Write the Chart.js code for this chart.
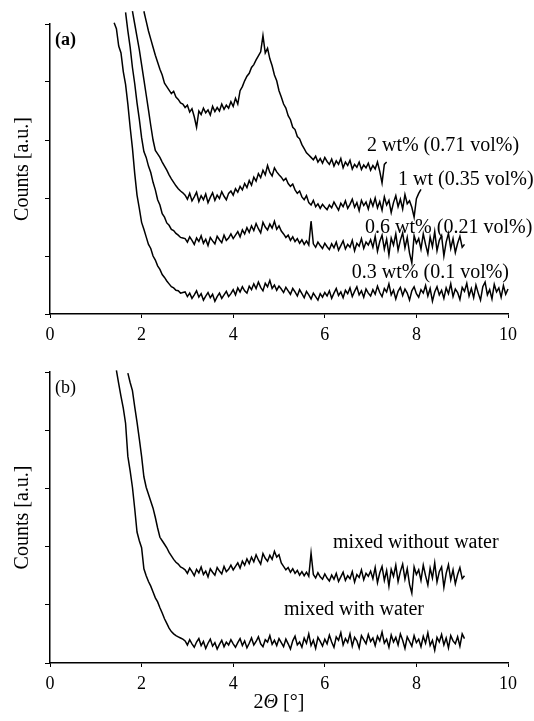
<!DOCTYPE html>
<html><head><meta charset="utf-8">
<script src="https://cdn.jsdelivr.net/npm/chart.js@4/dist/chart.umd.min.js"></script>
<style>
html,body{margin:0;padding:0;background:#fff;}
#wrap{width:534px;height:721px;position:relative;background:#fff;}
canvas{display:block;}
</style></head><body>
<div id="wrap">
<div style="position:absolute;left:0;top:0;width:534px;height:350px"><canvas id="ca" width="534" height="350"></canvas></div>
<div style="position:absolute;left:0;top:350px;width:534px;height:371px"><canvas id="cb" width="534" height="371"></canvas></div>
</div>
<script>
// ---- data (2Θ step 0.05°, each series starts at its own first angle) ----
const angleStep = 0.05;
const xTicks = [0, 2, 4, 6, 8, 10];

// panel (a)
const start03 = 1.40;
const counts03 = [5.02,4.92,4.62,4.50,4.18,3.96,3.62,3.22,2.86,2.42,2.05,1.82,1.58,1.46,1.33,1.20,1.13,1.00,0.93,0.83,0.77,0.68,0.63,0.57,0.52,0.47,0.45,0.41,0.40,0.36,0.37,
0.38,0.30,0.36,0.27,0.33,0.40,0.29,0.35,0.24,0.31,0.37,0.28,0.34,0.22,0.30,0.36,0.27,0.33,0.39,0.30,
0.35,0.42,0.33,0.45,0.38,0.47,0.40,0.36,0.48,0.42,0.52,0.44,0.55,0.46,0.40,0.53,0.47,0.58,0.44,0.50,0.41,0.48,
0.43,0.37,0.46,0.40,0.34,0.44,0.38,0.31,0.42,0.35,0.28,0.39,0.33,0.26,0.36,0.30,0.24,0.35,0.29,0.37,
0.31,0.40,0.27,0.36,0.44,0.32,0.38,0.28,0.41,0.35,0.45,0.30,0.39,0.47,0.33,0.40,0.29,0.43,0.36,0.31,
0.42,0.34,0.48,0.37,0.30,0.44,0.38,0.52,0.33,0.41,0.26,0.39,0.46,0.32,0.43,0.36,0.24,0.40,0.47,0.35,
0.29,0.42,0.36,0.49,0.31,0.44,0.22,0.38,0.47,0.33,0.41,0.27,0.45,0.35,0.52,0.30,0.43,0.37,0.25,0.46,
0.39,0.53,0.31,0.44,0.28,0.50,0.36,0.24,0.47,0.55,0.33,0.42,0.26,0.51,0.38,0.45,0.29,0.49,0.34,0.43,0.37,0.41];

const start06 = 1.65;
const counts06 = [5.20,4.88,4.60,4.25,3.97,3.64,3.36,3.04,2.80,2.70,2.55,2.44,2.27,2.14,1.97,1.88,1.73,1.67,1.57,1.53,1.46,1.44,1.39,1.36,1.32,1.31,
1.30,1.24,1.33,1.27,1.20,1.31,1.25,1.35,1.22,1.29,1.18,1.32,1.26,1.21,1.34,1.28,1.23,1.36,1.27,1.31,1.38,1.30,
1.36,1.42,1.33,1.45,1.38,1.49,1.41,1.52,1.44,1.56,1.47,1.40,1.58,1.50,1.45,1.55,1.48,1.60,1.46,1.52,
1.43,1.38,1.32,1.36,1.27,1.33,1.25,1.30,1.22,1.28,1.20,1.26,1.19,1.60,1.21,1.15,1.24,1.18,1.13,1.22,
1.16,1.11,1.21,1.14,1.24,1.10,1.18,1.26,1.12,1.20,1.15,1.27,1.09,1.22,1.17,1.30,1.13,1.24,1.19,1.28,
1.15,1.34,1.08,1.25,1.36,1.12,1.29,1.02,1.31,1.19,1.38,1.10,1.27,1.40,1.14,1.32,1.05,0.88,1.35,1.22,
1.30,1.12,1.38,1.20,1.04,1.33,1.16,1.42,1.09,1.27,1.35,1.00,1.24,1.39,1.13,1.30,1.06,1.22,1.34,1.15,1.20];

const start1 = 1.80;
const counts1 = [5.22,5.00,4.78,4.56,4.30,4.04,3.78,3.52,3.25,3.00,2.82,2.76,2.70,2.62,2.55,2.48,2.40,2.33,2.27,2.21,2.16,2.12,2.09,
2.05,1.98,2.08,1.95,2.02,2.10,1.94,2.04,1.97,2.07,1.92,2.01,2.09,1.96,2.05,1.99,2.11,2.03,1.97,2.08,
2.12,2.05,2.16,2.10,2.20,2.14,2.25,2.18,2.30,2.22,2.36,2.29,2.42,2.35,2.48,2.40,2.56,2.44,2.38,2.52,2.45,2.40,
2.36,2.30,2.34,2.25,2.20,2.24,2.14,2.08,2.12,2.02,1.97,2.04,1.92,1.88,1.96,1.85,1.90,1.82,1.89,1.84,
1.80,1.88,1.83,1.93,1.86,1.79,1.91,1.85,1.95,1.82,1.89,1.98,1.84,1.92,1.78,1.96,1.87,1.93,1.81,1.97,
1.86,2.00,1.83,1.94,1.79,2.02,1.88,1.96,1.75,1.92,2.04,1.85,1.98,1.81,2.06,1.90,1.95,1.84,1.67,1.99,2.08,2.15];

const start2 = 2.05;
const counts2 = [5.22,5.05,4.88,4.74,4.60,4.46,4.34,4.22,4.12,3.98,3.92,3.86,3.80,3.84,3.74,3.70,3.64,3.62,3.56,3.60,
3.48,3.54,3.40,3.22,3.50,3.44,3.55,3.47,3.52,3.43,3.58,3.49,3.56,3.50,3.62,3.53,3.60,3.55,3.66,3.58,
3.72,3.62,3.85,3.92,4.02,4.10,4.15,4.25,4.30,4.38,4.45,4.52,4.80,4.50,4.58,4.40,4.28,4.12,4.02,3.85,
3.74,3.62,3.55,3.42,3.35,3.22,3.18,3.06,3.02,2.92,2.85,2.78,2.74,2.70,2.66,2.72,2.62,2.68,2.60,2.70,
2.63,2.58,2.67,2.55,2.64,2.58,2.68,2.52,2.62,2.56,2.65,2.50,2.58,2.53,2.62,2.49,2.57,2.52,2.60,2.48,
2.56,2.50,2.62,2.46,2.26,2.58,2.62];

// panel (b)
const startWith = 1.45;
const countsWith = [5.03,4.80,4.58,4.38,4.12,3.55,3.30,3.02,2.65,2.25,2.10,1.98,1.62,1.50,1.40,1.32,1.22,1.12,1.05,0.95,0.86,0.76,0.68,0.60,0.54,0.50,0.47,0.45,0.43,0.41,
0.38,0.31,0.40,0.33,0.27,0.36,0.42,0.30,0.37,0.25,0.34,0.41,0.29,0.35,0.24,0.32,0.39,0.28,0.36,0.31,0.40,0.33,
0.27,0.35,0.42,0.30,0.38,0.26,0.34,0.43,0.31,0.37,0.45,0.33,0.28,0.40,0.36,0.47,0.32,0.39,0.30,0.42,
0.35,0.28,0.41,0.33,0.24,0.38,0.46,0.31,0.36,0.27,0.43,0.34,0.50,0.30,0.39,0.25,0.44,0.37,0.29,0.41,
0.33,0.48,0.36,0.27,0.45,0.39,0.52,0.31,0.42,0.35,0.50,0.29,0.44,0.38,0.26,0.47,0.40,0.33,0.49,0.37,
0.43,0.30,0.46,0.38,0.53,0.34,0.41,0.27,0.48,0.36,0.44,0.31,0.50,0.39,0.25,0.45,0.37,0.29,0.47,0.35,
0.41,0.28,0.46,0.34,0.52,0.30,0.39,0.22,0.44,0.36,0.49,0.31,0.43,0.26,0.47,0.38,0.33,0.45,0.29,0.50,0.42];

const startWithout = 1.70;
const countsWithout = [4.98,4.82,4.68,4.40,4.14,3.85,3.55,3.20,3.02,2.90,2.78,2.66,2.50,2.32,2.16,2.10,2.04,1.98,1.90,1.84,1.78,1.73,1.70,1.65,1.63,
1.60,1.54,1.63,1.57,1.50,1.61,1.55,1.65,1.52,1.58,1.48,1.62,1.56,1.51,1.64,1.58,1.53,1.66,1.57,1.61,1.68,1.60,
1.66,1.72,1.63,1.75,1.68,1.79,1.71,1.82,1.74,1.86,1.77,1.70,1.88,1.80,1.75,1.85,1.78,1.92,1.82,1.86,
1.72,1.66,1.60,1.64,1.56,1.62,1.54,1.59,1.51,1.57,1.50,1.56,1.49,1.89,1.52,1.46,1.55,1.48,1.44,1.53,
1.46,1.41,1.51,1.44,1.54,1.40,1.48,1.56,1.42,1.50,1.45,1.57,1.39,1.52,1.47,1.60,1.43,1.54,1.49,1.58,
1.45,1.64,1.38,1.55,1.66,1.42,1.59,1.32,1.61,1.49,1.68,1.40,1.57,1.70,1.44,1.62,1.35,1.20,1.65,1.52,
1.60,1.42,1.68,1.50,1.34,1.63,1.46,1.72,1.39,1.57,1.65,1.30,1.54,1.69,1.43,1.60,1.36,1.52,1.64,1.45,1.50];

const labelsA = ['2 wt% (0.71 vol%)', '1 wt (0.35 vol%)', '0.6 wt% (0.21 vol%)', '0.3 wt% (0.1 vol%)'];
const labelsB = ['mixed without water', 'mixed with water'];

// ---- helpers ----
function toPoints(start, vals) {
  return vals.map((v, i) => ({ x: +(start + i * angleStep).toFixed(2), y: v }));
}
function ds(start, vals) {
  return { data: toPoints(start, vals), borderColor: '#000', borderWidth: 1.5,
           pointRadius: 0, fill: false, tension: 0, clip: false, borderJoinStyle: 'miter' };
}
const SERIF = '"Liberation Serif", "DejaVu Serif", serif';

function makeTextPlugin(cfg) {
  return {
    id: 'texts',
    afterDraw(chart) {
      const { ctx, chartArea, scales } = chart;
      const xs = scales.x, ys = scales.y;
      ctx.save();
      ctx.fillStyle = '#000';
      // y title
      ctx.save();
      ctx.font = '20px ' + SERIF;
      ctx.translate(23, (chartArea.top + chartArea.bottom) / 2);
      ctx.rotate(-Math.PI / 2);
      ctx.textAlign = 'center'; ctx.textBaseline = 'middle';
      ctx.fillText('Counts [a.u.]', 0, 0);
      ctx.restore();
      // panel letter
      ctx.font = cfg.panelFont + ' ' + SERIF;
      ctx.textAlign = 'left'; ctx.textBaseline = 'middle';
      ctx.fillText(cfg.panel, chartArea.left + 5, chartArea.top + 16);
      // curve labels
      ctx.font = '20px ' + SERIF;
      cfg.labels.forEach((t, i) => {
        const a = cfg.anchors[i];
        ctx.fillText(t, xs.getPixelForValue(a[0]), ys.getPixelForValue(a[1]));
      });
      // x title
      if (cfg.xTitle) {
        const cx = (chartArea.left + chartArea.right) / 2;
        const cy = chartArea.bottom + 40;
        const f1 = '20px ' + SERIF, f2 = 'italic 20px ' + SERIF;
        ctx.font = f1; const w1 = ctx.measureText('2').width; const w3 = ctx.measureText(' [°]').width;
        ctx.font = f2; const w2 = ctx.measureText('Θ').width;
        let x0 = cx - (w1 + w2 + w3) / 2;
        ctx.font = f1; ctx.fillText('2', x0, cy);
        ctx.font = f2; ctx.fillText('Θ', x0 + w1, cy);
        ctx.font = f1; ctx.fillText(' [°]', x0 + w1 + w2, cy);
      }
      ctx.restore();
    }
  };
}

function makeChart(id, datasets, topPad, xH, textCfg) {
  return new Chart(document.getElementById(id), {
    type: 'line',
    data: { datasets },
    options: {
      responsive: false, animation: false, events: [],
      layout: { padding: { left: 0, right: 26, top: topPad, bottom: 0 } },
      plugins: { legend: { display: false }, tooltip: { enabled: false } },
      scales: {
        x: {
          type: 'linear', min: 0, max: 10,
          afterBuildTicks: a => { a.ticks = xTicks.map(v => ({ value: v })); },
          ticks: { color: '#000', font: { family: SERIF, size: 18 }, padding: 6, maxRotation: 0 },
          grid: { drawOnChartArea: false, drawTicks: true, tickLength: 4, color: '#000', lineWidth: 1 },
          border: { display: true, color: '#000', width: 1.5 },
          afterFit: a => { a.height = xH; }
        },
        y: {
          min: 0, max: 5,
          ticks: { stepSize: 1, display: false },
          grid: { drawOnChartArea: false, drawTicks: true, tickLength: 5, color: '#000', lineWidth: 1 },
          border: { display: true, color: '#000', width: 1.5 },
          afterFit: a => { a.width = 50; }
        }
      }
    },
    plugins: [makeTextPlugin(textCfg)]
  });
}

makeChart('ca',
  [ds(start2, counts2), ds(start1, counts1), ds(start06, counts06), ds(start03, counts03)],
  24, 36,
  { panel: '(a)', panelFont: 'bold 18px', labels: labelsA,
    anchors: [[6.92, 2.90], [7.60, 2.31], [6.88, 1.48], [6.59, 0.71]] });

makeChart('cb',
  [ds(startWithout, countsWithout), ds(startWith, countsWith)],
  22, 58,
  { panel: '(b)', panelFont: '18px', labels: labelsB,
    anchors: [[6.18, 2.06], [5.11, 0.91]], xTitle: true });
</script>
</body></html>
